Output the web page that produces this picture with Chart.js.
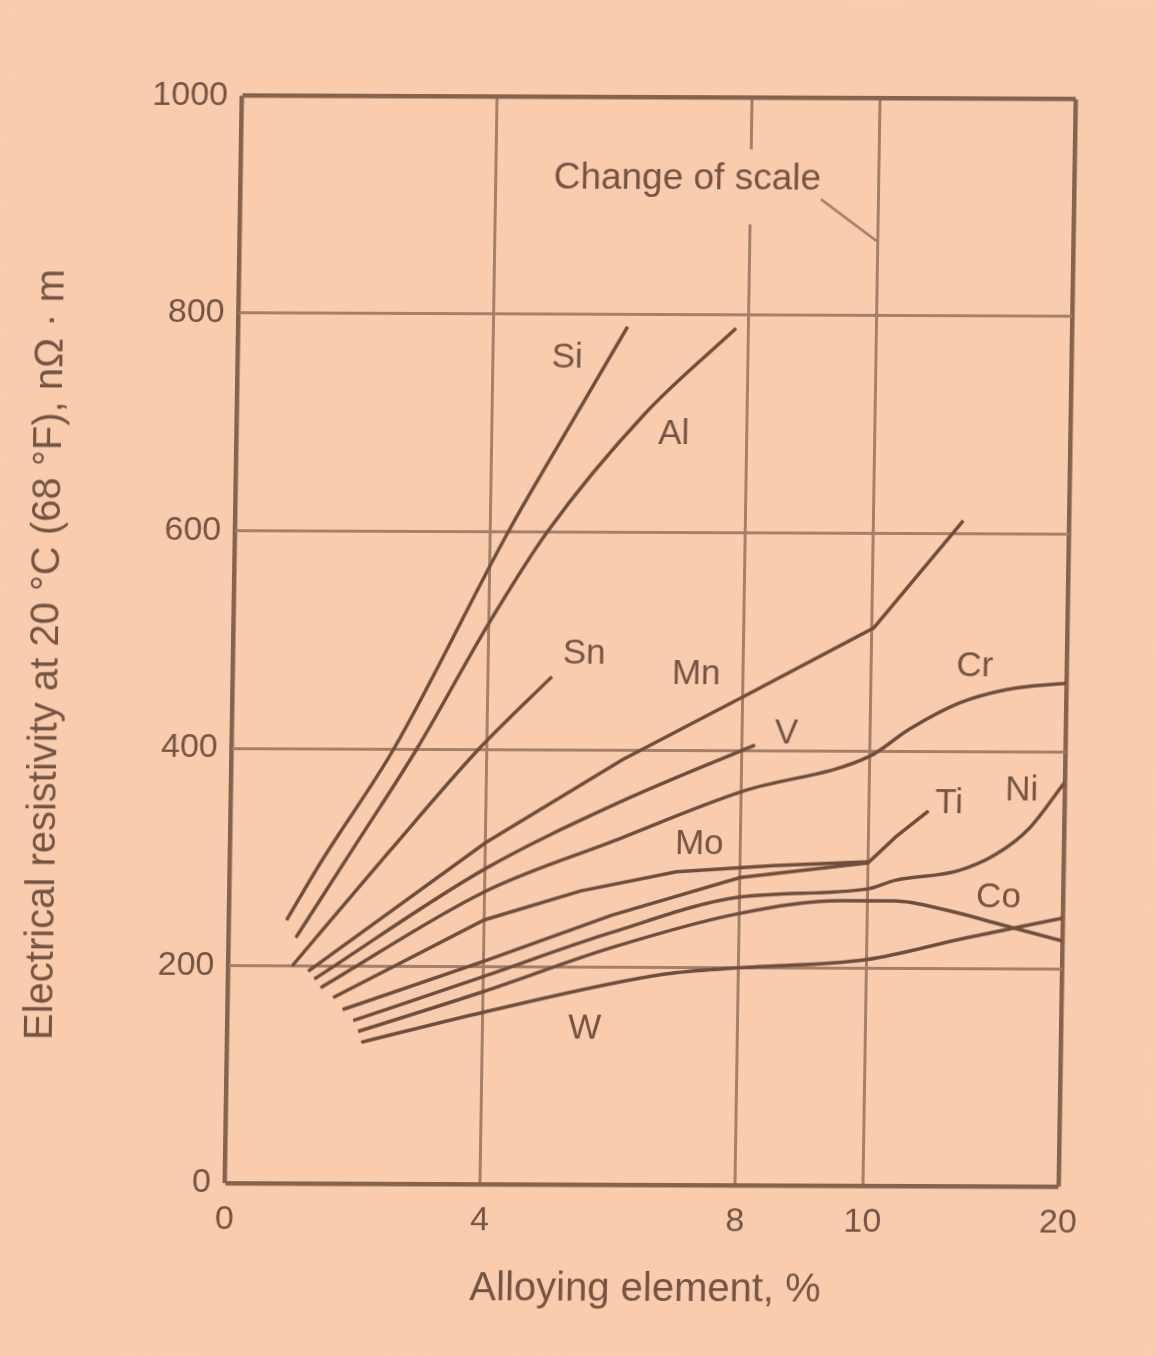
<!DOCTYPE html>
<html>
<head>
<meta charset="utf-8">
<title>Electrical resistivity of iron alloys</title>
<script src="https://cdn.jsdelivr.net/npm/chart.js@4.4.1/dist/chart.umd.min.js"></script>
<style>
  html, body { margin: 0; padding: 0; background: #f9ccae; overflow: hidden; }
  #wrap { width: 1156px; height: 1356px; position: relative; }
  /* slight shear of the printed page */
  #c { display: block; transform: matrix(1, 0.0042, -0.0157, 1, 0, 0); transform-origin: 650px 641px; }
</style>
</head>
<body>
<div id="wrap"><canvas id="c" width="1156" height="1356"></canvas></div>
<script>
// ---- data: alloying element (%) vs resistivity at 20 °C (nΩ·m) ----
const siPct = [0.9, 1.44, 2.54, 4.28, 5.22, 6.1];
const siRho = [242, 297, 400, 600, 698, 789];

const alPct = [1.05, 2.0, 2.9, 4.0, 4.89, 6.39, 7.8];
const alRho = [226, 315, 400, 516, 600, 709, 788];

const snPct = [1.0, 2.5, 3.87, 5.0];
const snRho = [200, 306, 400, 467];

const mnPct = [1.25, 4, 6.13, 8.06, 10.1, 14.6];
const mnRho = [195, 314, 391, 451, 513, 612];

const vPct = [1.35, 4, 6.1, 8.2];
const vRho = [188, 290, 352, 405];

const crPct = [1.45, 4, 6, 8, 10, 12, 14.5, 17, 20];
const crRho = [180, 269, 316, 362, 395, 420, 444, 457, 463];

const moPct = [1.65, 4, 5.5, 7, 8.5, 10];
const moRho = [171, 243, 270, 288, 294, 298];

const tiPct = [1.8, 4, 6, 8, 10, 11.4, 13.05];
const tiRho = [160, 205, 248, 283, 297, 321, 345];

const niPct = [1.97, 4, 6, 8, 10, 11.4, 14.6, 16.5, 18.2, 20];
const niRho = [150, 191, 232, 265, 273, 281, 290, 305, 329, 372];

const coPct = [2.05, 4, 6, 8, 9.6, 11.4, 14, 17, 20];
const coRho = [140, 177, 218, 250, 262, 262, 254, 240, 226];

const wPct = [2.1, 4, 6.85, 8, 10, 15, 20];
const wRho = [130, 158, 194, 200, 208, 228, 247];

// curve names and where each name is printed (%, nΩ·m)
const curveNames = ['Si', 'Al', 'Sn', 'Mn', 'V', 'Cr', 'Ti', 'Ni', 'Mo', 'Co', 'W'];
const namePct = [5.16, 6.85, 5.5, 7.26, 8.69, 15.3, 14.1, 17.8, 7.35, 16.7, 5.6];
const nameRho = [760, 690, 488, 470, 415, 478, 352, 364, 313, 265, 143];

// axis ticks
const xTickValues = [0, 4, 8, 10, 20];
const xTickLabels = ['0', '4', '8', '10', '20'];
const yTickLabels = ['0', '200', '400', '600', '800', '1000'];

// the x axis changes scale at 10 %: 10–20 % is compressed
const SCALE_BREAK = 10;
const COMPRESS = 0.3064;
function toAxis(p) { return p <= SCALE_BREAK ? p : SCALE_BREAK + (p - SCALE_BREAK) * COMPRESS; }

const FONT = "'Liberation Sans', Arial, Helvetica, sans-serif";
const PAPER = '#f9ccae';
const INK = '#6f4e3b';
const TEXT = '#745442';
const GRID = '#a48068';
const FRAME = '#85634d';

function series(pct, rho) { return pct.map((p, i) => ({ x: toAxis(p), y: rho[i] })); }

const curves = [
  series(siPct, siRho), series(alPct, alRho), series(snPct, snRho),
  series(mnPct, mnRho), series(vPct, vRho), series(crPct, crRho),
  series(moPct, moRho), series(tiPct, tiRho), series(niPct, niRho),
  series(coPct, coRho), series(wPct, wRho)
];
const curveIds = ['Si', 'Al', 'Sn', 'Mn', 'V', 'Cr', 'Mo', 'Ti', 'Ni', 'Co', 'W'];
// curves drawn as straight runs with a sharp bend at the scale change
const straightRuns = ['Mn', 'Mo', 'Ti'];

const datasets = curves.map((d, i) => {
  const straight = straightRuns.includes(curveIds[i]);
  return {
    label: curveIds[i],
    data: d,
    borderColor: INK,
    borderWidth: 3.5,
    pointRadius: 0,
    fill: false,
    cubicInterpolationMode: straight ? 'default' : 'monotone',
    tension: 0
  };
});

const X_MAX = toAxis(20);
const near = (a, b) => Math.abs(a - b) < 1e-6;

const paperPlugin = {
  id: 'paper',
  beforeDraw(chart) {
    const ctx = chart.ctx;
    ctx.save();
    ctx.fillStyle = PAPER;
    ctx.fillRect(0, 0, chart.width, chart.height);
    ctx.restore();
  }
};

const annotationPlugin = {
  id: 'annotations',
  afterDatasetsDraw(chart) {
    const ctx = chart.ctx;
    const xs = chart.scales.x, ys = chart.scales.y;
    const area = chart.chartArea;
    ctx.save();
    ctx.fillStyle = TEXT;
    ctx.textAlign = 'center';
    ctx.textBaseline = 'middle';

    // curve names
    ctx.font = `35px ${FONT}`;
    curveNames.forEach((n, i) => {
      ctx.fillText(n, xs.getPixelForValue(toAxis(namePct[i])), ys.getPixelForValue(nameRho[i]));
    });

    // "Change of scale" note with its leader
    ctx.font = `37px ${FONT}`;
    const noteX = xs.getPixelForValue(7.0), noteY = ys.getPixelForValue(925);
    const w = ctx.measureText('Change of scale').width;
    ctx.fillStyle = PAPER;
    ctx.fillRect(noteX - w / 2 - 6, noteY - 30, w + 12, 75);
    ctx.fillStyle = TEXT;
    ctx.fillText('Change of scale', noteX, noteY);
    ctx.strokeStyle = GRID;
    ctx.lineWidth = 2.6;
    ctx.beginPath();
    ctx.moveTo(xs.getPixelForValue(9.1), ys.getPixelForValue(907));
    ctx.lineTo(xs.getPixelForValue(10), ys.getPixelForValue(868));
    ctx.stroke();

    // axis titles
    ctx.font = `40px ${FONT}`;
    ctx.fillText('Alloying element, %', (area.left + area.right) / 2 + 5, area.bottom + 105);
    ctx.translate(47, (area.top + area.bottom) / 2 + 16);
    ctx.rotate(-Math.PI / 2);
    ctx.fillText('Electrical resistivity at 20 °C (68 °F), nΩ · m', 0, 0);
    ctx.restore();
  }
};

new Chart(document.getElementById('c'), {
  type: 'line',
  data: { datasets },
  options: {
    responsive: false,
    animation: false,
    devicePixelRatio: 1,
    layout: { padding: { left: 0, top: 97.5, right: 89, bottom: 0 } },
    plugins: { legend: { display: false }, tooltip: { enabled: false } },
    scales: {
      x: {
        type: 'linear',
        min: 0,
        max: X_MAX,
        afterBuildTicks(scale) { scale.ticks = xTickValues.map(v => ({ value: toAxis(v) })); },
        afterFit(scale) { scale.height = 171; },
        ticks: {
          autoSkip: false,
          maxRotation: 0,
          padding: 16,
          color: TEXT,
          font: { size: 34, family: FONT },
          callback: (v, i) => xTickLabels[i]
        },
        grid: {
          drawTicks: false,
          color: c => (near(c.tick.value, 0) || near(c.tick.value, X_MAX)) ? FRAME : GRID,
          lineWidth: c => (near(c.tick.value, 0) || near(c.tick.value, X_MAX)) ? 4.5 : 3
        },
        border: { display: false }
      },
      y: {
        type: 'linear',
        min: 0,
        max: 1000,
        afterFit(scale) { scale.width = 233.5; },
        ticks: {
          stepSize: 200,
          padding: 14,
          color: TEXT,
          font: { size: 34, family: FONT },
          callback: (v, i) => yTickLabels[i]
        },
        grid: {
          drawTicks: false,
          color: c => (c.tick.value === 0 || c.tick.value === 1000) ? FRAME : GRID,
          lineWidth: c => (c.tick.value === 0 || c.tick.value === 1000) ? 4.5 : 3
        },
        border: { display: false }
      }
    }
  },
  plugins: [paperPlugin, annotationPlugin]
});
</script>
</body>
</html>
